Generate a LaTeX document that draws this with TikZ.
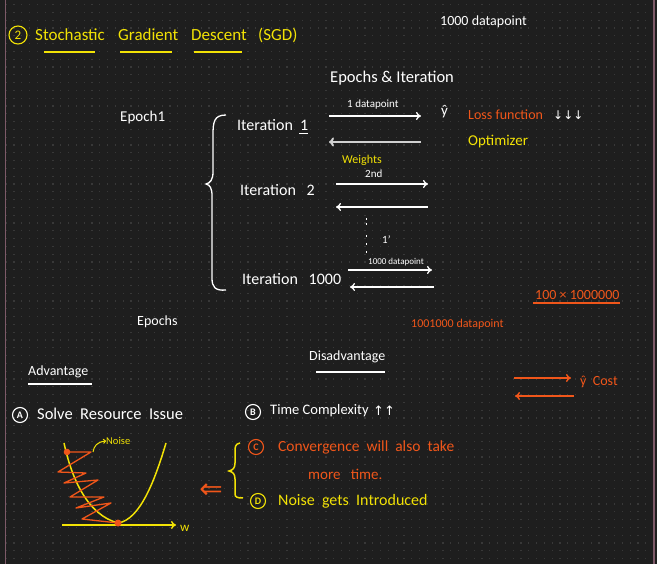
\documentclass[tikz,border=0pt]{standalone}
\usepackage{fontspec}
\setmainfont{Carlito}
\newfontfamily\symf{DejaVu Sans}
\usetikzlibrary{arrows.meta}
\definecolor{bg}{HTML}{1E1E1E}
\definecolor{dotc}{HTML}{383838}
\definecolor{ylw}{HTML}{F2E205}
\definecolor{org}{HTML}{F0561A}
\definecolor{edgec}{HTML}{7D5A68}
\definecolor{ltg}{HTML}{D0D0D0}
\tikzset{
  wt/.style={text=white, inner sep=0pt, anchor=west, font=\fontsize{15}{17}\selectfont},
  sm/.style={text=white, inner sep=0pt, anchor=west, font=\fontsize{11}{13}\selectfont},
  yt/.style={text=ylw, inner sep=0pt, anchor=west, font=\fontsize{15}{17}\selectfont},
  ot/.style={text=org, inner sep=0pt, anchor=west, font=\fontsize{14}{16}\selectfont},
  ttl/.style={text=ylw, inner sep=0pt, anchor=west, font=\fontsize{17}{20}\selectfont},
  circ/.style={circle, draw=#1, text=#1, line width=1.1pt, inner sep=1.2pt, minimum size=15pt, font=\fontsize{10}{11}\selectfont\bfseries},
  warr/.style={white, line width=1.3pt, -{To[length=5pt,width=8pt]}},
  larr/.style={ltg, line width=2pt, -{To[length=5pt,width=9pt]}},
  oarr/.style={org, line width=1.5pt, -{To[length=5pt,width=8pt]}},
  uline/.style={line width=1.6pt},
}
\begin{document}
\begin{tikzpicture}[x=1pt,y=-1pt]
\fill[bg] (0,0) rectangle (657,564);
\useasboundingbox (0,0) rectangle (657,564);
\foreach \i in {0,...,83} {\foreach \j in {0,...,71} {\fill[dotc] (5.5+7.8*\i,4.1+7.8*\j) rectangle ++(1.2,1.2);}}
\draw[edgec, line width=1.2pt] (5.3,0) -- (5.3,564);
\draw[edgec, line width=1.2pt] (654,0) -- (654,564);

% title
\node[circ=ylw, minimum size=18pt, font=\fontsize{13}{14}\selectfont] (n2) at (18,35) {2};
\node[ttl] (t1) at (35,35) {Stochastic};
\node[ttl] (t2) at (118,35) {Gradient};
\node[ttl] (t3) at (191,35) {Descent};
\node[ttl] (t4) at (258,35) {(SGD)};
\draw[ylw, uline] (44,52) -- (95,52);
\draw[ylw, uline] (120,52) -- (172,52);
\draw[ylw, uline] (194,52) -- (242,52);

\node[wt, font=\fontsize{14}{16}\selectfont] (dp) at (440,22) {1000 datapoint};
\node[wt, font=\fontsize{16.5}{18}\selectfont] (ei) at (330,78) {Epochs \& Iteration};

% epoch 1
\node[wt] (ep1) at (120,118) {Epoch1};
\draw[white, line width=1.3pt] (226,115) .. controls (214,115) and (213,122) .. (213,135) -- (213,172) .. controls (213,180) and (210,183) .. (206,184) .. controls (210,185) and (212,188) .. (212,196) -- (212,278) .. controls (212,287) and (215,291) .. (226,290);
\node[wt, font=\fontsize{16}{18}\selectfont] (it1) at (237,125) {Iteration\ \ 1};
\draw[white, line width=1.1pt] ([yshift=-3pt]it1.south east) ++(-9,0) -- ++(9,0);
\node[wt, font=\fontsize{16}{18}\selectfont] (it2) at (240,190) {Iteration\ \ \ 2};
\node[wt, font=\fontsize{16}{18}\selectfont] (it3) at (242,279) {Iteration\ \ \ 1000};

% arrows row 1
\node[sm] (onedp) at (347,105) {1 datapoint};
\coordinate (a1s) at (329,116); \coordinate (a1e) at (421,116);
\draw[warr] (a1s) -- (a1e);
\coordinate (b1s) at (421,142); \coordinate (b1e) at (329,142);
\draw[larr] (b1s) -- (b1e);
\node[wt] (yh) at (441,112) {ŷ};
\node[ot] (lf) at (468,115) {Loss function};
\node[text=white, inner sep=0pt, anchor=west, font=\symf\fontsize{12}{14}\selectfont] (dn) at (553,115) {↓↓↓};
\node[yt] (opt) at (468,142) {Optimizer};

% row 2
\node[yt, font=\fontsize{12}{14}\selectfont] (wts) at (342,160) {Weights};
\node[sm] (snd) at (365,174) {2nd};
\coordinate (a2s) at (336,184); \coordinate (a2e) at (428,184);
\draw[warr] (a2s) -- (a2e);
\coordinate (b2s) at (428,207); \coordinate (b2e) at (336,207);
\draw[warr] (b2s) -- (b2e);
\foreach \yy in {218,223,235,243,251} {\fill[white] (365.5,\yy) rectangle ++(1.2,2.2);}
\node[sm] (one2) at (382,240) {1'};

% row 3
\node[sm, font=\fontsize{9}{11}\selectfont] (kdp) at (368,262) {1000 datapoint};
\coordinate (a3s) at (348,270); \coordinate (a3e) at (432,270);
\draw[warr] (a3s) -- (a3e);
\coordinate (b3s) at (434,287); \coordinate (b3e) at (350,287);
\draw[warr] (b3s) -- (b3e);

\node[wt, font=\fontsize{14}{16}\selectfont] (eps) at (137,322) {Epochs};
\node[ot] (mul) at (535,295) {100 × 1000000};
\draw[org, uline] (533,303) -- (620,303);
\node[ot, font=\fontsize{12}{14}\selectfont] (tdp) at (411,324) {1001000 datapoint};

% cost arrows
\coordinate (c1s) at (514,378); \coordinate (c1e) at (571,378);
\draw[oarr] (c1s) -- (c1e);
\coordinate (c2s) at (574,396); \coordinate (c2e) at (515,396);
\draw[oarr] (c2s) -- (c2e);
\node[ot] (cost) at (580,382) {ŷ\ \ Cost};

% advantage / disadvantage
\node[wt, font=\fontsize{14}{16}\selectfont] (adv) at (28,372) {Advantage};
\draw[white, uline] (28,384) -- (92,384);
\node[wt, font=\fontsize{14}{16}\selectfont] (dis) at (309,357) {Disadvantage};
\draw[white, uline] (316,372) -- (385,372);

\node[circ=white] (ca) at (20,415) {A};
\node[wt, font=\fontsize{16.5}{18}\selectfont] (sri) at (37,414) {Solve\ \ Resource\ \ Issue};
\node[circ=white] (cb) at (253,412) {B};
\node[wt, font=\fontsize{14.5}{17}\selectfont] (tc) at (270,411) {Time Complexity};
\node[text=white, inner sep=0pt, anchor=west, font=\symf\fontsize{13}{15}\selectfont] (up) at (373,411) {↑↑};

% yellow brace
\draw[ylw, line width=1.5pt] (240,443) .. controls (235,444) and (235,447) .. (235,452) -- (235,463) .. controls (235,468) and (233,470) .. (229,471) .. controls (233,472) and (235,474) .. (235,479) -- (235,494) .. controls (235,497) and (237,498) .. (243,498);
\node[circ=org] (cc) at (256,447) {C};
\node[ot, font=\fontsize{15.5}{17}\selectfont] (conv) at (278,447) {Convergence\ \ will\ \ also\ \ take};
\node[ot, font=\fontsize{15}{17}\selectfont] (mt) at (308,474) {more\ \ \ time.};
\node[circ=ylw] (cd) at (258,501) {D};
\node[yt, font=\fontsize{16}{18}\selectfont] (noise) at (278,501) {Noise\ \ gets\ \ Introduced};
\node[text=org, inner sep=0pt, font=\symf\fontsize{28}{30}\selectfont] (darr) at (211,491) {⇐};

% graph
\coordinate (ax0) at (62,525); \coordinate (ax1) at (176,525);
\draw[ylw, line width=1.5pt, -{To[length=5pt,width=8pt]}] (ax0) -- (ax1);
\node[text=ylw, inner sep=0pt, anchor=west, font=\fontsize{13}{15}\selectfont] (wlab) at (180,528) {w};
\draw[ylw, line width=1.5pt] (64,443) .. controls (72,480) and (88,515) .. (118,523) .. controls (140,520) and (155,480) .. (166,443);
\draw[org, line width=1.3pt, line join=round] (67,452) -- (91,452) -- (58,472) -- (86,473) -- (64,483) -- (98,480) -- (70,497) -- (104,497) -- (76,508) -- (111,503) -- (82,519) -- (118,523);
\fill[org] (67,452) circle (3.3);
\fill[org] (118,523) circle (3.5);
\node[text=ylw, inner sep=0pt, anchor=west, font=\fontsize{10.5}{12}\selectfont] (nz) at (106,441) {Noise};
\coordinate (nzs) at (93,452);
\draw[ylw, line width=1pt, -{To[length=3pt,width=5pt]}] (nzs) .. controls (94,446) and (97,442) .. (nz.west);
\end{tikzpicture}
\end{document}
